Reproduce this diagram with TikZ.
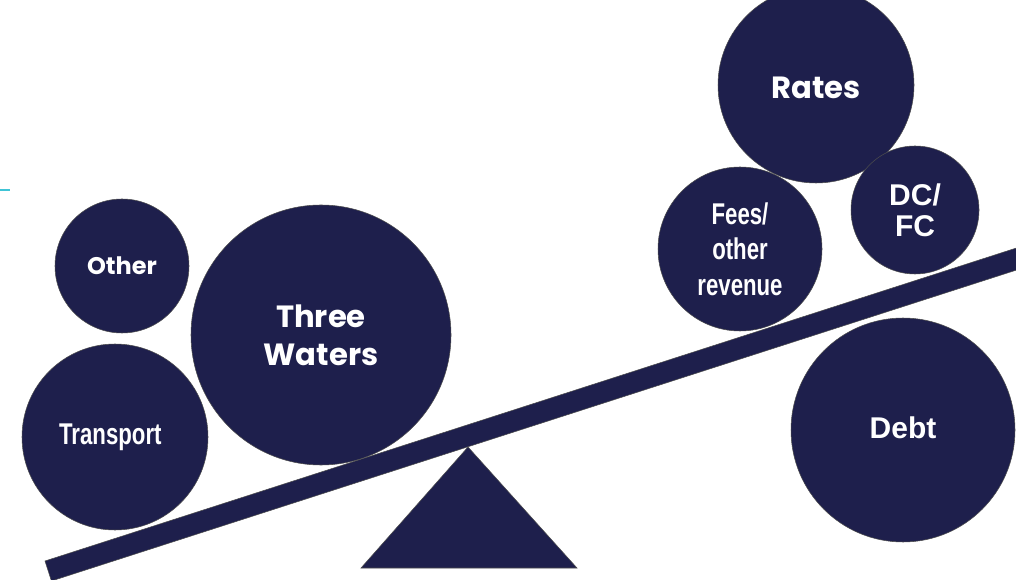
\documentclass[tikz,border=0pt]{standalone}
\usepackage{fontspec}
\newfontfamily\popfont{Poppins}
\newfontfamily\sansfont{Liberation Sans}
\newfontfamily\narrowfont{Liberation Sans}[FakeStretch=0.74]
\definecolor{navy}{RGB}{30,31,76}
\definecolor{teal}{RGB}{64,196,214}
\begin{document}
\begin{tikzpicture}[x=0.75pt,y=-0.75pt,
  bubble/.style={circle, fill=navy, draw=black!70, line width=0.4pt,
    inner sep=0pt, minimum size=#1*1.5pt, text=white, align=center},
  popbold/.style={font=\popfont\bfseries\fontsize{23}{28.5}\selectfont},
  sansbold/.style={font=\sansfont\bfseries\fontsize{22.5}{23}\selectfont},
  narrowbold/.style={font=\narrowfont\bfseries\fontsize{22.5}{26.5}\selectfont},
  solid shape/.style={fill=navy, draw=black!70, line width=0.4pt}]
\useasboundingbox (0,0) rectangle (1016,580);
\clip (0,0) rectangle (1016,580);

% short accent rule on the left margin
\coordinate (ruleA) at (0,190);
\coordinate (ruleB) at (10,190);
\draw[teal, line width=1.6pt] (ruleA) -- (ruleB);

% left pan: spending
\node[bubble=67, font=\popfont\bfseries\fontsize{18}{22}\selectfont] (other) at (122,266) {Other};
\node[bubble=130, popbold] (water) at (321,335) {Three\\Waters};
\node[bubble=93, label={[narrowbold, text=white, xshift=-3.5pt]center:Transport}] (transport) at (115,437) {};

% right pan: funding
\node[bubble=98, label={[popbold, text=white, yshift=-2.5pt]center:Rates}] (rates) at (816,85) {};
\node[bubble=82, narrowbold] (fees) at (740,249) {Fees/\\other\\revenue};
\node[bubble=64, sansbold] (dcfc) at (915,210) {DC/\\FC};
\node[bubble=112, label={[sansbold, text=white, yshift=2pt]center:Debt}] (debt) at (903,430) {};

% tilted beam (a rotated bar) and its pivot
\begin{scope}[shift={(45,561)}, rotate=17.86]
  \path[solid shape] (0,0) rectangle (1050,21);
\end{scope}
\coordinate (apex) at (468,447);
\coordinate (baseL) at (361,568);
\coordinate (baseR) at (577,568);
\path[solid shape] (apex) -- (baseR) -- (baseL) -- cycle;
\end{tikzpicture}
\end{document}
